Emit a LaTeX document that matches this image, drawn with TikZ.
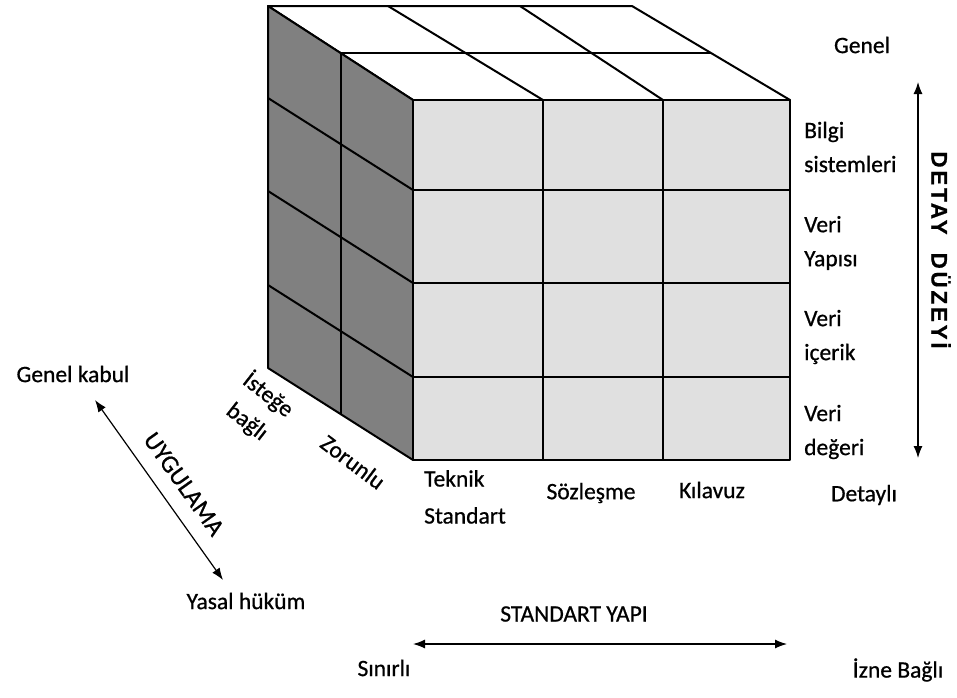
\documentclass[tikz,border=0pt]{standalone}
\usepackage{fontspec}
\setmainfont{Carlito}[FakeBold=0.7]
\newfontfamily\arialfont[LetterSpace=12, FakeBold=0.5]{Liberation Sans}
\usetikzlibrary{arrows.meta,calc}

\definecolor{sidegray}{RGB}{128,128,128}
\definecolor{frontgray}{RGB}{224,224,224}

\begin{document}
\begin{tikzpicture}[x=1pt, y=-1pt,
  lbl/.style={font=\fontsize{23.5}{34}\selectfont, inner sep=0pt, align=left},
  edge/.style={line width=2pt, draw=black, line join=round},
  dbl/.style={{Latex[length=12pt,width=9pt]}-{Latex[length=12pt,width=9pt]},
              line width=1.2pt, draw=black},
  detay/.style={font=\arialfont\bfseries\fontsize{22.5}{26}\selectfont, inner sep=0pt}
]
\useasboundingbox (0,0) rectangle (957,697);

% cube corners
\coordinate (ftl) at (413,100);
\coordinate (ftr) at (790,100);
\coordinate (fbl) at (413,460);
\coordinate (fbr) at (790,460);
\coordinate (btl) at (268,6);
\coordinate (btr) at (632,6);
\coordinate (bbl) at (268,368);

% faces
\draw[edge, fill=white] (btl) -- (btr) -- (ftr) -- (ftl) -- cycle;
\draw[edge, fill=sidegray] (btl) -- (ftl) -- (fbl) -- (bbl) -- cycle;
\draw[edge, fill=frontgray] (ftl) rectangle (fbr);

% top face grid
\draw[edge] ($(btl)!0.5!(ftl)$) -- ($(btr)!0.5!(ftr)$);
\draw[edge] (388,6) -- (543,100);
\draw[edge] (520,6) -- (663,100);

% side face grid
\draw[edge] ($(btl)!0.5!(ftl)$) -- ($(bbl)!0.5!(fbl)$);
\draw[edge] (268,98) -- (413,190);
\draw[edge] (268,191) -- (413,283);
\draw[edge] (268,285) -- (413,377);

% front face grid
\draw[edge] (543,100) -- (543,460);
\draw[edge] (663,100) -- (663,460);
\draw[edge] (413,190) -- (790,190);
\draw[edge] (413,283) -- (790,283);
\draw[edge] (413,377) -- (790,377);

% rows
\node[lbl, anchor=west] (bilgi)  at (804,147) {Bilgi\\sistemleri};
\node[lbl, anchor=west] (yapi)   at (804,243) {Veri\\Yapısı};
\node[lbl, anchor=west] (icerik) at (804,337) {Veri\\içerik};
\node[lbl, anchor=west] (deger)  at (804,432) {Veri\\değeri};

% columns
\node[lbl, anchor=north west] (teknik) at (424,470) {Teknik\\[3pt]Standart};
\node[lbl] (sozlesme) at (591,493) {Sözleşme};
\node[lbl] (kilavuz)  at (712,490) {Kılavuz};

% depth
\node[lbl, align=center, rotate=-38] (istege) at (258,408) {İsteğe\\bağlı};
\node[lbl, rotate=-37] (zorunlu) at (353,462) {Zorunlu};

% detail axis
\node[lbl] (genel)   at (862,45)  {Genel};
\node[lbl] (detayli) at (864,495) {Detaylı};
\coordinate (dtop) at (918,82);
\coordinate (dbot) at (918,458);
\draw[dbl] (dtop) -- (dbot);
\node[detay, rotate=-90] (duzey) at (941,250) {DETAY~~DÜZEYİ};

% application axis
\node[lbl] (kabul) at (73,374)  {Genel kabul};
\node[lbl] (yasal) at (246,601) {Yasal hüküm};
\coordinate (utop) at (95,400);
\coordinate (ubot) at (223,580);
\draw[dbl] (utop) -- (ubot);
\node[lbl, font=\fontsize{25}{28}\selectfont, rotate=-54.6] (uygulama) at (184,484) {UYGULAMA};

% structure axis
\node[lbl] (yapi2)  at (574,614) {STANDART YAPI};
\node[lbl] (sinir)  at (384,668) {Sınırlı};
\node[lbl] (izne)   at (898,670) {İzne Bağlı};
\coordinate (sleft)  at (413,644);
\coordinate (sright) at (787,644);
\draw[dbl] (sleft) -- (sright);
\end{tikzpicture}
\end{document}
